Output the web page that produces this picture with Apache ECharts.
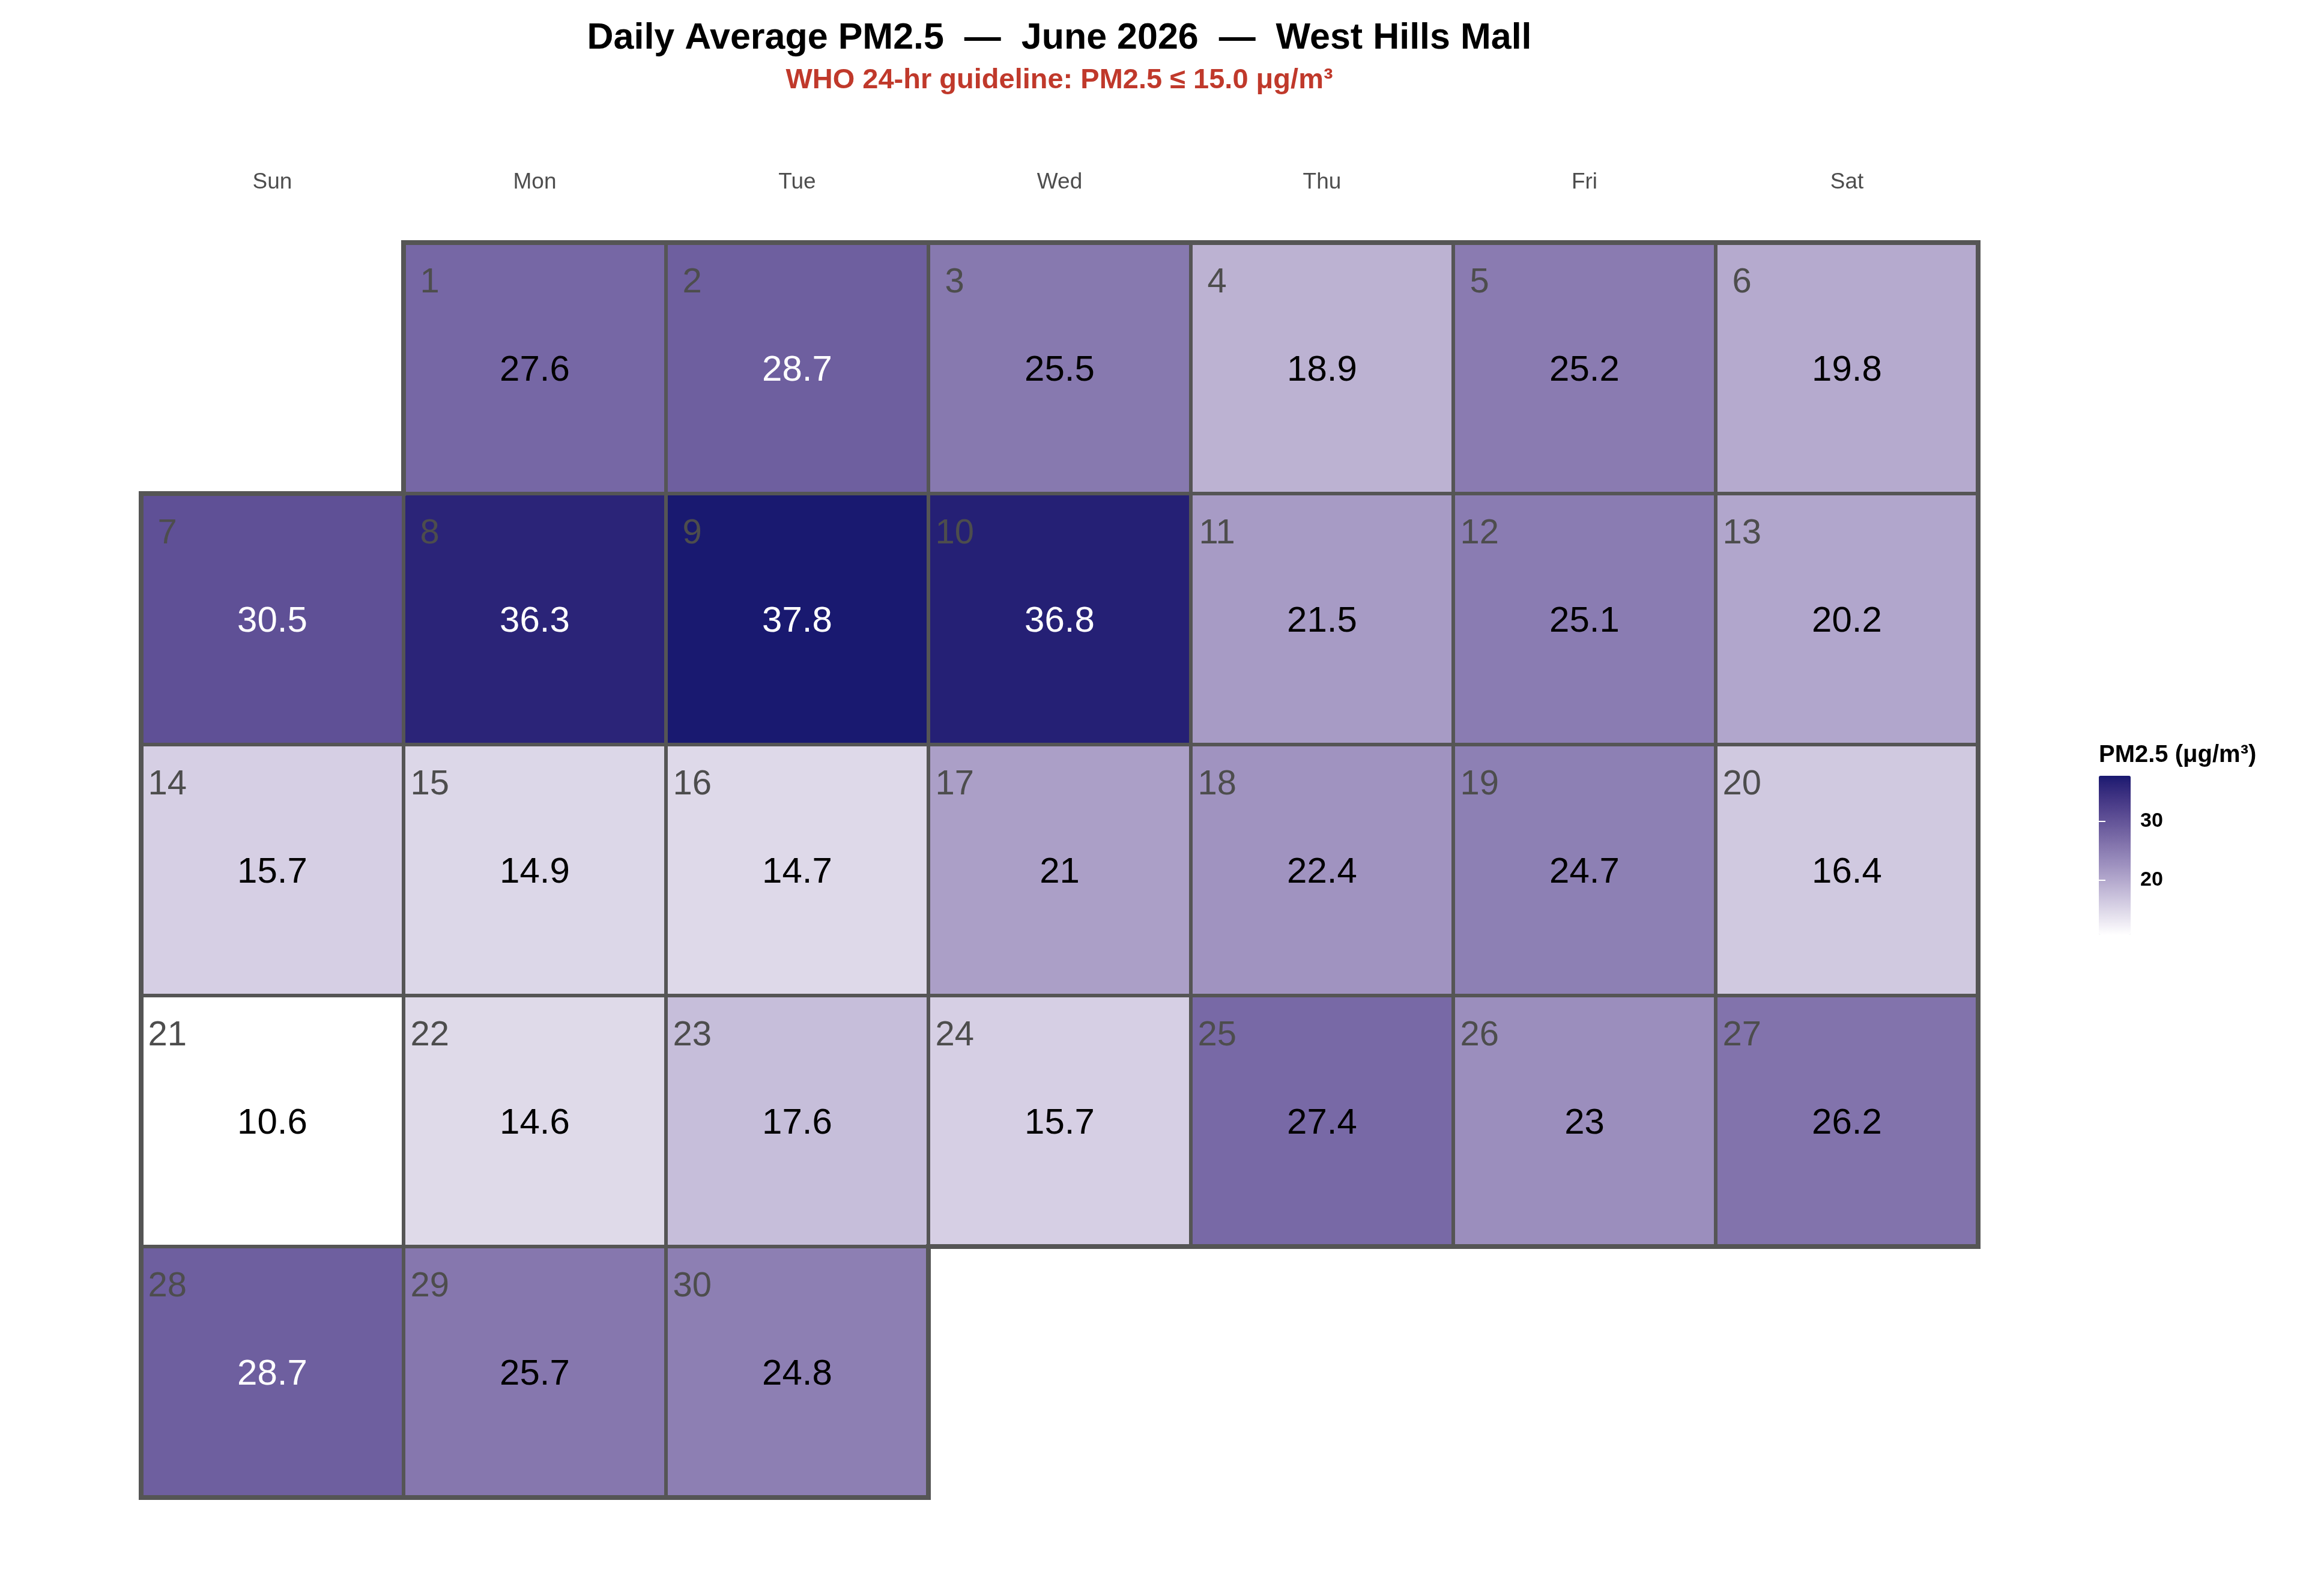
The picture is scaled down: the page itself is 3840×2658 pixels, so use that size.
<!DOCTYPE html>
<html>
<head>
<meta charset="utf-8">
<script src="https://cdn.jsdelivr.net/npm/echarts@6/dist/echarts.min.js"></script>
<style>
  html, body { margin: 0; padding: 0; background: #fff; }
  #main { width: 3840px; height: 2658px; }
</style>
</head>
<body>
<div id="main"></div>
<script>
    const monthKey = '2026-06';
    const dayNums = [1, 2, 3, 4, 5, 6, 7, 8, 9, 10, 11, 12, 13, 14, 15,
                     16, 17, 18, 19, 20, 21, 22, 23, 24, 25, 26, 27, 28, 29, 30];
    const pm25 = [27.6, 28.7, 25.5, 18.9, 25.2, 19.8,
                  30.5, 36.3, 37.8, 36.8, 21.5, 25.1, 20.2,
                  15.7, 14.9, 14.7, 21, 22.4, 24.7, 16.4,
                  10.6, 14.6, 17.6, 15.7, 27.4, 23, 26.2,
                  28.7, 25.7, 24.8];
    const weekdayNames = ['Sun', 'Mon', 'Tue', 'Wed', 'Thu', 'Fri', 'Sat'];
    const legendTicks = [20, 30];
    const titleText = 'Daily Average PM2.5  \u2014  June 2026  \u2014  West Hills Mall';
    const subtitleText = 'WHO 24-hr guideline: PM2.5 \u2264 15.0 \u03bcg/m\u00b3';
    const legendTitle = 'PM2.5 (\u03bcg/m\u00b3)';

    const FONT = '"Liberation Sans", Arial, Helvetica, sans-serif';
    const lowColor = '#ffffff';
    const highColor = '#191970';
    const valMin = Math.min(...pm25);
    const valMax = Math.max(...pm25);

    // colour ramp interpolated in CIELAB, like the original gradient
    function toLin(c) { c /= 255; return c <= 0.04045 ? c / 12.92 : Math.pow((c + 0.055) / 1.055, 2.4); }
    function fromLin(c) {
        c = c <= 0.0031308 ? 12.92 * c : 1.055 * Math.pow(Math.max(c, 0), 1 / 2.4) - 0.055;
        return Math.round(Math.max(0, Math.min(1, c)) * 255);
    }
    const WX = 0.95047, WY = 1, WZ = 1.08883;
    const fLab = t => t > 0.008856 ? Math.cbrt(t) : 7.787 * t + 16 / 116;
    const fInv = t => t > 0.206893 ? t * t * t : (t - 16 / 116) / 7.787;
    function hexToLab(hex) {
        const [r, g, b] = [1, 3, 5].map(i => toLin(parseInt(hex.substr(i, 2), 16)));
        const x = (0.4124 * r + 0.3576 * g + 0.1805 * b) / WX;
        const y = (0.2126 * r + 0.7152 * g + 0.0722 * b) / WY;
        const z = (0.0193 * r + 0.1192 * g + 0.9505 * b) / WZ;
        const fx = fLab(x), fy = fLab(y), fz = fLab(z);
        return [116 * fy - 16, 500 * (fx - fy), 200 * (fy - fz)];
    }
    function labToHex(lab) {
        const fy = (lab[0] + 16) / 116, fx = fy + lab[1] / 500, fz = fy - lab[2] / 200;
        const x = fInv(fx) * WX, y = fInv(fy) * WY, z = fInv(fz) * WZ;
        const r = 3.2406 * x - 1.5372 * y - 0.4986 * z;
        const g = -0.9689 * x + 1.8758 * y + 0.0415 * z;
        const b = 0.0557 * x - 0.2040 * y + 1.0570 * z;
        return '#' + [r, g, b].map(c => fromLin(c).toString(16).padStart(2, '0')).join('');
    }
    const labLo = hexToLab(lowColor), labHi = hexToLab(highColor);
    const rampColors = [];
    for (let i = 0; i <= 20; i++) {
        const t = i / 20;
        rampColors.push(labToHex(labLo.map((v, k) => v + (labHi[k] - v) * t)));
    }

    const calData = dayNums.map((d, i) => [monthKey + '-' + String(d).padStart(2, '0'), pm25[i], d]);

    // legend bar placement
    const barLeft = 3495, barTop = 1292, barW = 53, barH = 265;
    const axisMin = 10, axisMax = 40;
    const pxPerUnit = barH / (valMax - valMin);

    var myChart = echarts.init(document.getElementById('main'));
    var option = {
        backgroundColor: '#ffffff',
        animation: false,
        calendar: {
            orient: 'vertical',
            range: monthKey,
            left: 235,
            top: 404,
            cellSize: [437, 418],
            splitLine: { show: true, lineStyle: { color: '#555555', width: 8 } },
            itemStyle: { color: 'rgba(0,0,0,0)', borderWidth: 0 },
            dayLabel: {
                firstDay: 0,
                position: 'start',
                margin: 82,
                nameMap: weekdayNames,
                color: '#4d4d4d',
                fontSize: 37,
                fontFamily: FONT
            },
            monthLabel: { show: false },
            yearLabel: { show: false }
        },
        visualMap: {
            type: 'continuous',
            min: valMin,
            max: valMax,
            seriesIndex: 0,
            dimension: 1,
            orient: 'vertical',
            left: barLeft,
            top: barTop,
            itemWidth: barW,
            itemHeight: barH,
            padding: 0,
            calculable: false,
            inRange: { color: rampColors }
        },
        grid: {
            left: barLeft,
            width: barW,
            top: barTop - (axisMax - valMax) * pxPerUnit,
            height: (axisMax - axisMin) * pxPerUnit
        },
        xAxis: { type: 'value', show: false },
        yAxis: [
            {
                type: 'value', min: axisMin, max: axisMax, interval: 10, position: 'right', z: 10,
                axisLine: { show: false }, splitLine: { show: false },
                axisTick: { show: true, inside: true, length: 11, lineStyle: { color: '#ffffff', width: 2 } },
                axisLabel: {
                    margin: 16, fontSize: 34, fontWeight: 'bold', color: '#000000', fontFamily: FONT,
                    formatter: v => legendTicks.includes(v) ? String(v) : ''
                }
            },
            {
                type: 'value', min: axisMin, max: axisMax, interval: 10, position: 'left', z: 10,
                axisLine: { show: false }, splitLine: { show: false },
                axisTick: { show: true, inside: true, length: 11, lineStyle: { color: '#ffffff', width: 2 } },
                axisLabel: { show: false }
            }
        ],
        graphic: [
            {
                type: 'text', x: 1764, y: 64, z: 100,
                style: { text: titleText, fill: '#000000', font: 'bold 61px ' + FONT, align: 'center', verticalAlign: 'middle' }
            },
            {
                type: 'text', x: 1764, y: 134, z: 100,
                style: { text: subtitleText, fill: '#c0392b', font: 'bold 47px ' + FONT, align: 'center', verticalAlign: 'middle' }
            },
            {
                type: 'text', x: barLeft, y: 1258, z: 100,
                style: { text: legendTitle, fill: '#000000', font: 'bold 40px ' + FONT, align: 'left', verticalAlign: 'middle' }
            }
        ],
        series: [
            {
                type: 'custom',
                coordinateSystem: 'calendar',
                data: calData,
                renderItem: function (params, api) {
                    const c = api.coord([api.value(0), api.value(1)]);
                    const cw = params.coordSys.cellWidth;
                    const ch = params.coordSys.cellHeight;
                    const v = api.value(1);
                    const x0 = c[0] - cw / 2, y0 = c[1] - ch / 2;
                    return {
                        type: 'group',
                        children: [
                            {
                                type: 'rect',
                                shape: { x: x0, y: y0, width: cw, height: ch },
                                style: { fill: api.visual('color'), stroke: '#555555', lineWidth: 6 }
                            },
                            {
                                type: 'text', x: x0 + cw * 0.1, y: y0 + ch * 0.16,
                                style: { text: String(api.value(2)), fill: '#4d4d4d', font: '58px ' + FONT, align: 'center', verticalAlign: 'middle' }
                            },
                            {
                                type: 'text', x: c[0], y: c[1] + 4,
                                style: { text: String(v), fill: v >= 28 ? '#ffffff' : '#000000', font: '60px ' + FONT, align: 'center', verticalAlign: 'middle' }
                            }
                        ]
                    };
                }
            }
        ]
    };

    option && myChart.setOption(option);
</script>
</body>
</html>
